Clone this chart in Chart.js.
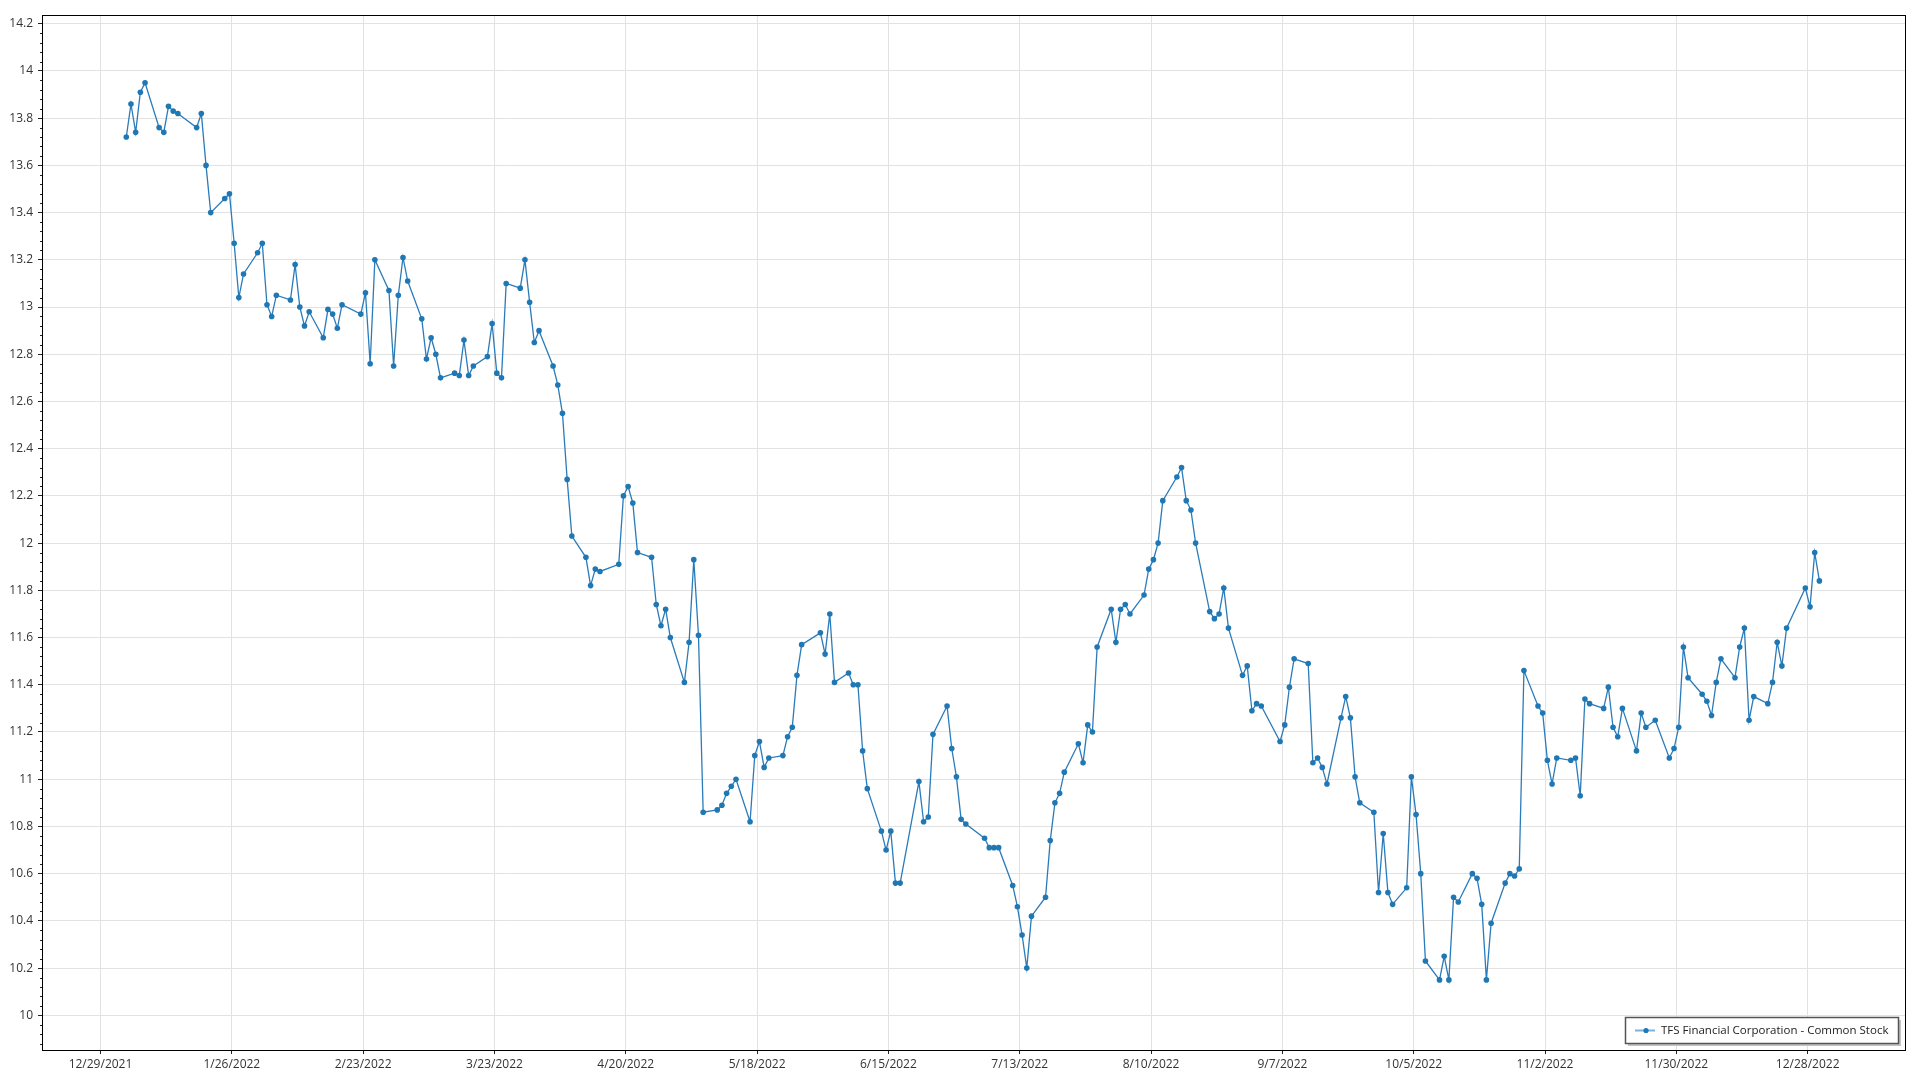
<!DOCTYPE html>
<html>
<head>
<meta charset="utf-8">
<title>TFS Financial Corporation - Common Stock</title>
<style>
  html, body { margin: 0; padding: 0; background: #fff; }
  #wrap { width: 1920px; height: 1080px; }
</style>
<script src="https://cdn.jsdelivr.net/npm/chart.js@4.4.1/dist/chart.umd.min.js"></script>
</head>
<body>
<div id="wrap"><canvas id="chart" width="1920" height="1080"></canvas></div>
<script>
const seriesName = 'TFS Financial Corporation - Common Stock';
const tradeYear = 2022;
const axisOrigin = '12/29/2021';

// trading days (M/D, 2022)
const tradeDates = [
  '1/3','1/4','1/5','1/6','1/7','1/10','1/11','1/12','1/13','1/14','1/18','1/19','1/20','1/21',
  '1/24','1/25','1/26','1/27','1/28','1/31',
  '2/1','2/2','2/3','2/4','2/7','2/8','2/9','2/10','2/11','2/14','2/15','2/16','2/17','2/18',
  '2/22','2/23','2/24','2/25','2/28',
  '3/1','3/2','3/3','3/4','3/7','3/8','3/9','3/10','3/11','3/14','3/15','3/16','3/17','3/18',
  '3/21','3/22','3/23','3/24','3/25','3/28','3/29','3/30','3/31',
  '4/1','4/4','4/5','4/6','4/7','4/8','4/11','4/12','4/13','4/14','4/18','4/19','4/20','4/21',
  '4/22','4/25','4/26','4/27','4/28','4/29',
  '5/2','5/3','5/4','5/5','5/6','5/9','5/10','5/11','5/12','5/13','5/16','5/17','5/18','5/19',
  '5/20','5/23','5/24','5/25','5/26','5/27','5/31',
  '6/1','6/2','6/3','6/6','6/7','6/8','6/9','6/10','6/13','6/14','6/15','6/16','6/17','6/21',
  '6/22','6/23','6/24','6/27','6/28','6/29','6/30',
  '7/1','7/5','7/6','7/7','7/8','7/11','7/12','7/13','7/14','7/15','7/18','7/19','7/20','7/21',
  '7/22','7/25','7/26','7/27','7/28','7/29',
  '8/1','8/2','8/3','8/4','8/5','8/8','8/9','8/10','8/11','8/12','8/15','8/16','8/17','8/18',
  '8/19','8/22','8/23','8/24','8/25','8/26','8/29','8/30','8/31',
  '9/1','9/2','9/6','9/7','9/8','9/9','9/12','9/13','9/14','9/15','9/16','9/19','9/20','9/21',
  '9/22','9/23','9/26','9/27','9/28','9/29','9/30',
  '10/3','10/4','10/5','10/6','10/7','10/10','10/11','10/12','10/13','10/14','10/17','10/18',
  '10/19','10/20','10/21','10/24','10/25','10/26','10/27','10/28','10/31',
  '11/1','11/2','11/3','11/4','11/7','11/8','11/9','11/10','11/11','11/14','11/15','11/16',
  '11/17','11/18','11/21','11/22','11/23','11/25','11/28','11/29','11/30',
  '12/1','12/2','12/5','12/6','12/7','12/8','12/9','12/12','12/13','12/14','12/15','12/16',
  '12/19','12/20','12/21','12/22','12/23','12/27','12/28','12/29','12/30'
];

const closePrices = [
  13.72,13.86,13.74,13.91,13.95,13.76,13.74,13.85,13.83,13.82,13.76,13.82,13.60,13.40,
  13.46,13.48,13.27,13.04,13.14,13.23,
  13.27,13.01,12.96,13.05,13.03,13.18,13.00,12.92,12.98,12.87,12.99,12.97,12.91,13.01,
  12.97,13.06,12.76,13.20,13.07,
  12.75,13.05,13.21,13.11,12.95,12.78,12.87,12.80,12.70,12.72,12.71,12.86,12.71,12.75,
  12.79,12.93,12.72,12.70,13.10,13.08,13.20,13.02,12.85,
  12.90,12.75,12.67,12.55,12.27,12.03,11.94,11.82,11.89,11.88,11.91,12.20,12.24,12.17,
  11.96,11.94,11.74,11.65,11.72,11.60,
  11.41,11.58,11.93,11.61,10.86,10.87,10.89,10.94,10.97,11.00,10.82,11.10,11.16,11.05,
  11.09,11.10,11.18,11.22,11.44,11.57,11.62,
  11.53,11.70,11.41,11.45,11.40,11.40,11.12,10.96,10.78,10.70,10.78,10.56,10.56,10.99,
  10.82,10.84,11.19,11.31,11.13,11.01,10.83,
  10.81,10.75,10.71,10.71,10.71,10.55,10.46,10.34,10.20,10.42,10.50,10.74,10.90,10.94,
  11.03,11.15,11.07,11.23,11.20,11.56,
  11.72,11.58,11.72,11.74,11.70,11.78,11.89,11.93,12.00,12.18,12.28,12.32,12.18,12.14,
  12.00,11.71,11.68,11.70,11.81,11.64,11.44,11.48,11.29,
  11.32,11.31,11.16,11.23,11.39,11.51,11.49,11.07,11.09,11.05,10.98,11.26,11.35,11.26,
  11.01,10.90,10.86,10.52,10.77,10.52,10.47,
  10.54,11.01,10.85,10.60,10.23,10.15,10.25,10.15,10.50,10.48,10.60,10.58,
  10.47,10.15,10.39,10.56,10.60,10.59,10.62,11.46,11.31,
  11.28,11.08,10.98,11.09,11.08,11.09,10.93,11.34,11.32,11.30,11.39,11.22,
  11.18,11.30,11.12,11.28,11.22,11.25,11.09,11.13,11.22,
  11.56,11.43,11.36,11.33,11.27,11.41,11.51,11.43,11.56,11.64,11.25,11.35,
  11.32,11.41,11.58,11.48,11.64,11.81,11.73,11.96,11.84
];

const xTickLabels = [
  '12/29/2021','1/26/2022','2/23/2022','3/23/2022','4/20/2022','5/18/2022','6/15/2022',
  '7/13/2022','8/10/2022','9/7/2022','10/5/2022','11/2/2022','11/30/2022','12/28/2022'
];
const yTickValues = [10, 10.2, 10.4, 10.6, 10.8, 11, 11.2, 11.4, 11.6, 11.8, 12, 12.2, 12.4,
  12.6, 12.8, 13, 13.2, 13.4, 13.6, 13.8, 14, 14.2];

const DAY_MS = 86400000;
const parseDate = (s) => {
  const [m, d, y] = s.split('/').map(Number);
  return Date.UTC(y, m - 1, d);
};
const originMs = parseDate(axisOrigin);
// days from the first axis tick; quotes are stamped at midday
const toDay = (s) => (parseDate(s) - originMs) / DAY_MS;

const points = tradeDates.map((d, i) => ({
  x: toDay(`${d}/${tradeYear}`) + 0.5,
  y: closePrices[i]
}));

const FONT = "'Open Sans', 'Noto Sans', sans-serif";
const LINE_BLUE = '#2a7bba';
const POINT_BLUE = '#1f77b4';

const framePlugin = {
  id: 'frameAndLegend',
  afterDraw(chart) {
    const { ctx, chartArea: a } = chart;
    const yScale = chart.scales.y;
    ctx.save();

    // minor ticks on the value axis
    ctx.strokeStyle = '#222';
    ctx.lineWidth = 1;
    ctx.beginPath();
    for (let k = Math.ceil(yScale.min / 0.04); k * 0.04 <= yScale.max; k++) {
      if (k % 5 === 0) continue;
      const py = Math.round(yScale.getPixelForValue(k * 0.04)) + 0.5;
      ctx.moveTo(a.left - 2, py);
      ctx.lineTo(a.left, py);
    }
    ctx.stroke();

    // plot frame
    ctx.strokeStyle = '#000';
    ctx.strokeRect(Math.round(a.left) + 0.5, Math.round(a.top) + 0.5,
      Math.round(a.right - a.left), Math.round(a.bottom - a.top));

    // legend box, bottom right inside the plot
    ctx.font = `11.5px ${FONT}`;
    const textW = ctx.measureText(seriesName).width;
    const boxW = Math.round(36 + textW + 10);
    const boxH = 26;
    const bx = Math.round(a.right - 7 - boxW);
    const by = Math.round(a.bottom - 7 - boxH);
    ctx.fillStyle = '#c4c4c4';
    ctx.fillRect(bx + 3, by + 3, boxW, boxH);
    ctx.fillStyle = '#fff';
    ctx.fillRect(bx, by, boxW, boxH);
    ctx.strokeStyle = '#555';
    ctx.lineWidth = 1.5;
    ctx.strokeRect(bx + 0.5, by + 0.5, boxW, boxH);

    const cy = by + boxH / 2 + 0.5;
    ctx.strokeStyle = '#7fb0d8';
    ctx.lineWidth = 2;
    ctx.beginPath();
    ctx.moveTo(bx + 10, cy);
    ctx.lineTo(bx + 30, cy);
    ctx.stroke();
    ctx.fillStyle = POINT_BLUE;
    ctx.beginPath();
    ctx.arc(bx + 21, cy, 2.6, 0, Math.PI * 2);
    ctx.fill();

    ctx.fillStyle = '#222';
    ctx.textBaseline = 'middle';
    ctx.textAlign = 'left';
    ctx.fillText(seriesName, bx + 36, cy);
    ctx.restore();
  }
};

new Chart(document.getElementById('chart'), {
  type: 'line',
  data: {
    datasets: [{
      label: seriesName,
      data: points,
      borderColor: LINE_BLUE,
      borderWidth: 1.3,
      backgroundColor: POINT_BLUE,
      pointRadius: 2.8,
      pointBorderWidth: 0,
      pointBackgroundColor: POINT_BLUE,
      tension: 0,
      fill: false
    }]
  },
  options: {
    responsive: false,
    animation: false,
    devicePixelRatio: 1,
    layout: { padding: { top: 15, right: 15, left: 0, bottom: 0 } },
    plugins: {
      legend: { display: false },
      tooltip: { enabled: false }
    },
    scales: {
      x: {
        type: 'linear',
        min: -12.47,
        max: 384.75,
        afterBuildTicks: (scale) => {
          scale.ticks = xTickLabels.map((l) => ({ value: toDay(l) }));
        },
        afterFit: (scale) => { scale.height = 30; },
        ticks: {
          autoSkip: false,
          maxRotation: 0,
          color: '#333',
          padding: 3,
          font: { family: FONT, size: 12 },
          callback: (value, index) => xTickLabels[index]
        },
        grid: { color: '#e2e2e2', tickColor: '#222', tickLength: 4 },
        border: { color: '#000', width: 1 }
      },
      y: {
        type: 'linear',
        min: 9.853,
        max: 14.237,
        afterBuildTicks: (scale) => {
          scale.ticks = yTickValues.map((v) => ({ value: v }));
        },
        afterFit: (scale) => { scale.width = 42; },
        ticks: {
          color: '#333',
          padding: 5,
          font: { family: FONT, size: 12 },
          callback: (value) => String(Number(value.toFixed(1)))
        },
        grid: { color: '#e2e2e2', tickColor: '#222', tickLength: 4 },
        border: { color: '#000', width: 1 }
      }
    }
  },
  plugins: [framePlugin]
});
</script>
</body>
</html>
